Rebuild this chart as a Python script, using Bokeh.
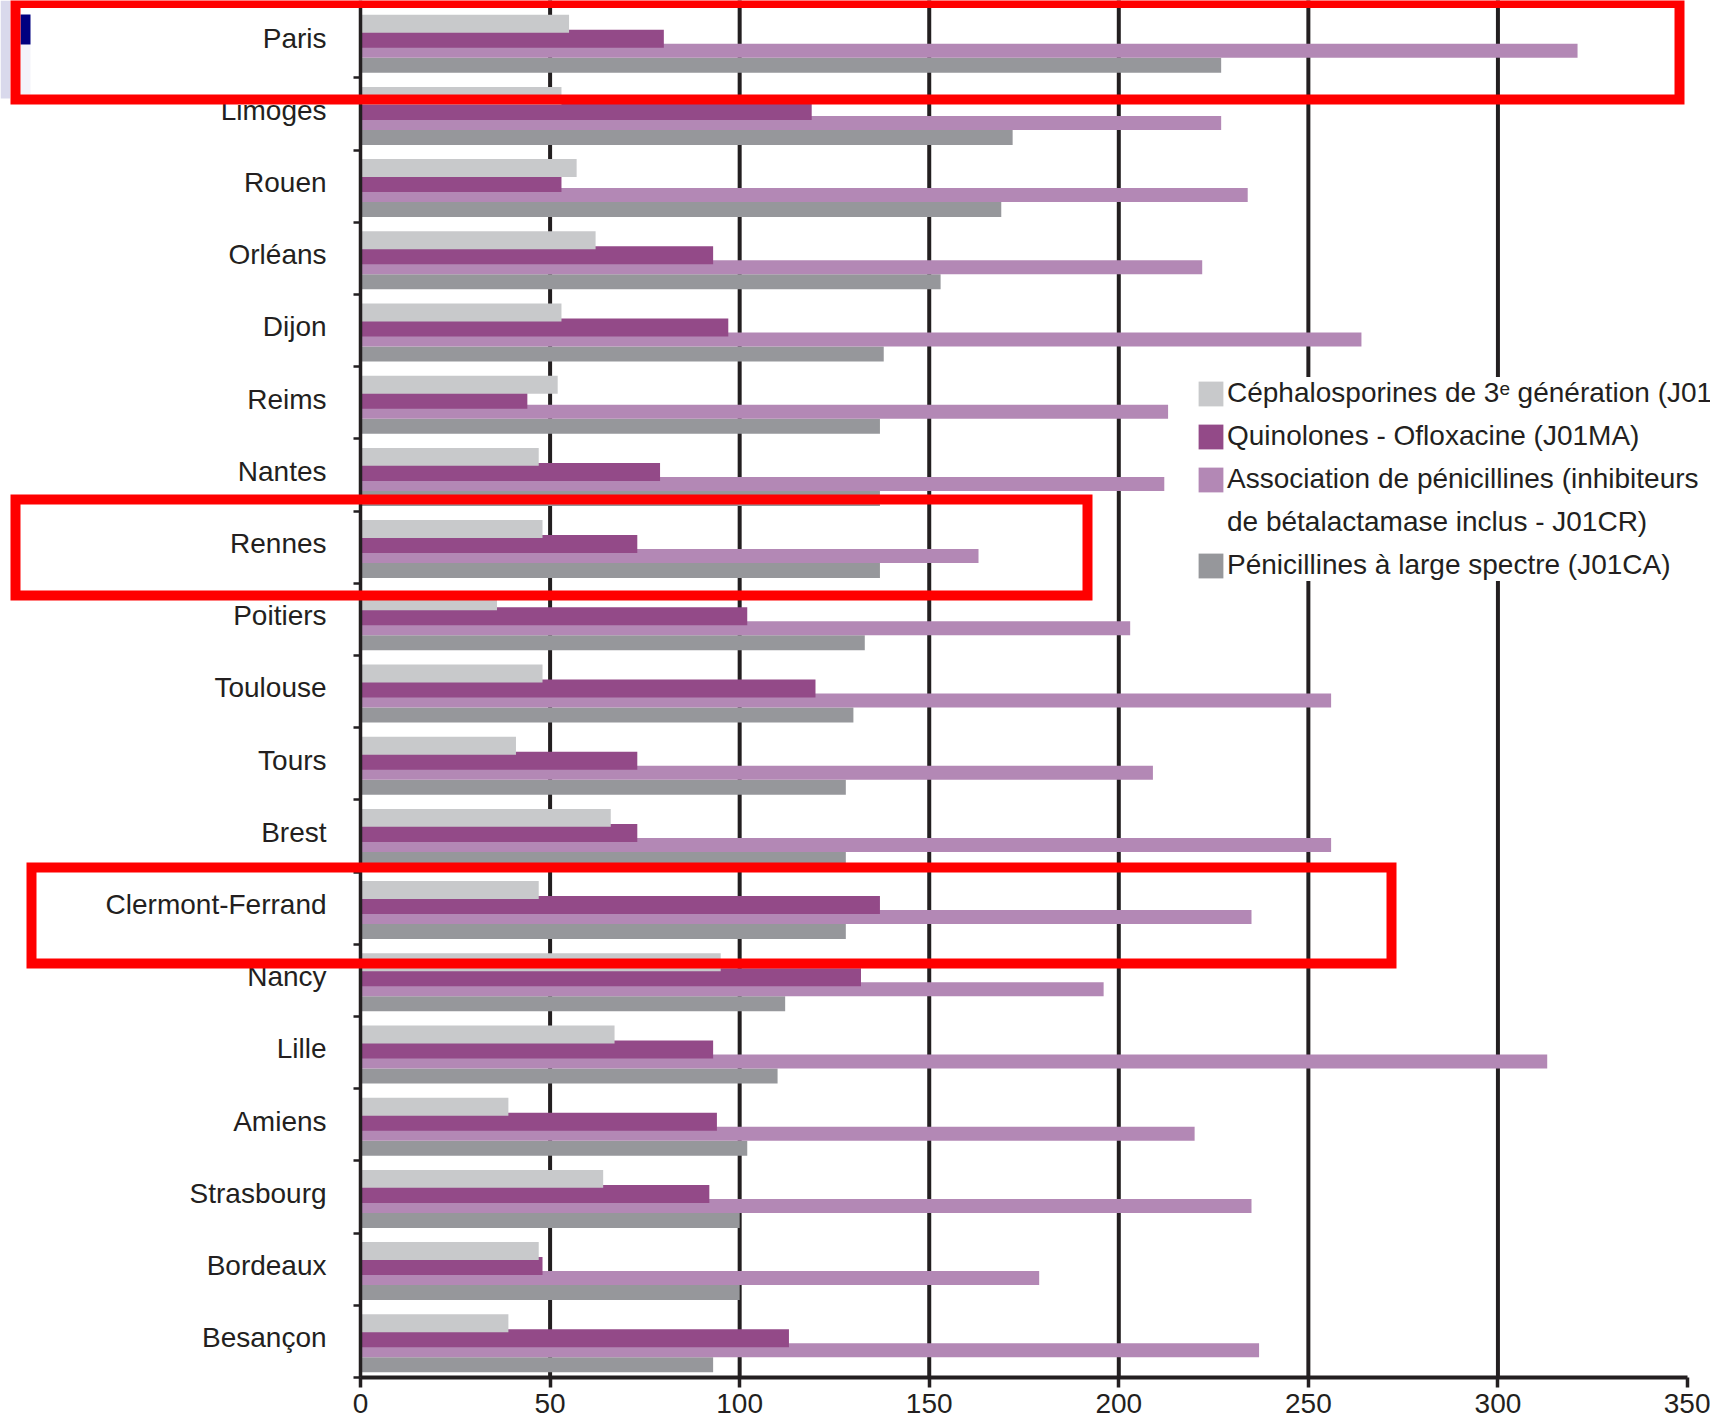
from bokeh.plotting import figure
from bokeh.models import (Range1d, FixedTicker, BoxAnnotation, Legend, LegendItem,
                          ColumnDataSource)
from bokeh.transform import dodge
from bokeh.embed import file_html
from bokeh.resources import INLINE

# Antibiotic consumption by city, four antibiotic classes
cities = ["Paris", "Limoges", "Rouen", "Orléans", "Dijon", "Reims", "Nantes", "Rennes",
          "Poitiers", "Toulouse", "Tours", "Brest", "Clermont-Ferrand", "Nancy", "Lille",
          "Amiens", "Strasbourg", "Bordeaux", "Besançon"]
cephalosporines_3g = [55, 53, 57, 62, 53, 52, 47, 48, 36, 48, 41, 66, 47, 95, 67, 39, 64, 47, 39]
quinolones = [80, 119, 53, 93, 97, 44, 79, 73, 102, 120, 73, 73, 137, 132, 93, 94, 92, 48, 113]
association_penicillines = [321, 227, 234, 222, 264, 213, 212, 163, 203, 256, 209, 256, 235,
                            196, 313, 220, 235, 179, 237]
penicillines_large = [227, 172, 169, 153, 138, 137, 137, 137, 133, 130, 128, 128, 128, 112,
                      110, 102, 100, 100, 93]
x_ticks = [0, 50, 100, 150, 200, 250, 300, 350]
grid_values = [50, 100, 150, 200, 250, 300]

series_labels = [
    "Céphalosporines de 3ᵉ génération (J01DD)",
    "Quinolones - Ofloxacine (J01MA)",
    "Association de pénicillines (inhibiteurs",
    "Pénicillines à large spectre (J01CA)",
]
label_continuation = "de bétalactamase inclus - J01CR)"
colors = ["#C8C9CB", "#934A88", "#B388B5", "#96979B"]

FONT = "Liberation Sans"
SIZE = "28px"
INK = "#231F20"

W, H = 1710, 1418
n = len(cities)
centers = [n - i - 0.5 for i in range(n)]
source = ColumnDataSource(dict(
    city=cities, pos=centers,
    ceph=cephalosporines_3g, quin=quinolones,
    assoc=association_penicillines, large=penicillines_large,
))

# The frame fills the whole canvas; axes are pinned inside it so that the
# highlight frames can run past the category labels.
px_per_unit_x = 3.791
px_per_cat = 72.2
axis_x_px, axis_y_px = 360, 1377
x_range = Range1d(-axis_x_px / px_per_unit_x, 350 + (W - 1687) / px_per_unit_x)
y_range = Range1d(-(H - axis_y_px) / px_per_cat, axis_y_px / px_per_cat)

p = figure(width=W, height=H, output_backend="svg", toolbar_location=None,
           x_range=x_range, y_range=y_range,
           min_border_left=0, min_border_right=0, min_border_top=0, min_border_bottom=0)
p.outline_line_color = None
p.background_fill_color = "white"
p.border_fill_color = "white"
p.xgrid.visible = False
p.ygrid.visible = False

# vertical grid lines, from the axis up to the top
grid_src = ColumnDataSource(dict(x=grid_values))
p.segment(x0="x", x1="x", y0=0, y1=y_range.end + 1, source=grid_src,
          line_color=INK, line_width=4, line_cap="butt")

# bars: later series are drawn over the previous ones (overlapping groups)
r_large = p.hbar(y=dodge("pos", -0.324), right="large", left=0, height=0.208,
                 source=source, color=colors[3], line_color=None)
r_assoc = p.hbar(y=dodge("pos", -0.123), right="assoc", left=0, height=0.194,
                 source=source, color=colors[2], line_color=None)
r_quin = p.hbar(y=dodge("pos", 0.043), right="quin", left=0, height=0.249,
                source=source, color=colors[1], line_color=None)
r_ceph = p.hbar(y=dodge("pos", 0.251), right="ceph", left=0, height=0.249,
                source=source, color=colors[0], line_color=None)

# an empty, invisible renderer that carries the second line of the third legend entry
r_cont = p.hbar(y=[], right=[], left=0, height=0.2, fill_alpha=0, line_alpha=0)

# x axis
xa = p.xaxis[0]
xa.fixed_location = 0
xa.bounds = (0, 350)
xa.ticker = FixedTicker(ticks=x_ticks)
xa.axis_line_color = INK
xa.axis_line_width = 4
xa.major_tick_line_color = INK
xa.major_tick_line_width = 3.5
xa.major_tick_out = 10
xa.major_tick_in = 0
xa.minor_tick_line_color = None
xa.major_label_text_font = FONT
xa.major_label_text_font_size = SIZE
xa.major_label_text_color = INK
xa.major_label_standoff = 6

# y axis: category labels at the middle of each group, ticks between groups
ya = p.yaxis[0]
ya.fixed_location = 0
ya.bounds = (0, y_range.end + 1)
label_pos = [c + 0.05 for c in centers]
ya.ticker = FixedTicker(ticks=label_pos, minor_ticks=list(range(0, n + 1)))
ya.major_label_overrides = {lp: c for lp, c in zip(label_pos, cities)}
ya.axis_line_color = INK
ya.axis_line_width = 3.5
ya.major_tick_line_color = None
ya.major_tick_out = 0
ya.major_tick_in = 0
ya.minor_tick_line_color = INK
ya.minor_tick_line_width = 2.5
ya.minor_tick_out = 7
ya.minor_tick_in = 0
ya.major_label_text_font = FONT
ya.major_label_text_font_size = SIZE
ya.major_label_text_color = INK
ya.major_label_standoff = 27

legend = Legend(
    items=[LegendItem(label=series_labels[0], renderers=[r_ceph]),
           LegendItem(label=series_labels[1], renderers=[r_quin]),
           LegendItem(label=series_labels[2], renderers=[r_assoc]),
           LegendItem(label=label_continuation, renderers=[r_cont]),
           LegendItem(label=series_labels[3], renderers=[r_large])],
    location=(1195, 837),
    glyph_width=31, glyph_height=31, label_standoff=1, spacing=11,
    padding=10, margin=0, border_line_color=None,
    background_fill_color="white", background_fill_alpha=1.0,
    label_text_font=FONT, label_text_font_size=SIZE, label_text_color=INK,
)
p.add_layout(legend)

def canvas_box(left, right, top, bottom, **style):
    return BoxAnnotation(left=left, right=right, top=top, bottom=bottom,
                         left_units="canvas", right_units="canvas",
                         top_units="canvas", bottom_units="canvas", **style)

# page-edge marks at the top left
p.add_layout(canvas_box(0, 9.5, 0, 98, fill_color="#D9D9EC", fill_alpha=1,
                        line_color=None))
p.add_layout(canvas_box(20, 30, 44, 94, fill_color="#F3F3FA", fill_alpha=1,
                        line_color=None))
p.add_layout(canvas_box(20, 30, 14, 44, fill_color="#000080", fill_alpha=1,
                        line_color=None))

# red highlight frames around three cities
for l, r, t, b in [(15, 1679, 2.5, 99), (15, 1087, 499, 595), (31, 1391, 867, 963)]:
    p.add_layout(canvas_box(l, r, t, b, fill_alpha=0, line_color="#FF0000",
                            line_alpha=1.0, line_width=10, line_join="miter"))

open("out.html", "w").write(file_html(p, INLINE))
